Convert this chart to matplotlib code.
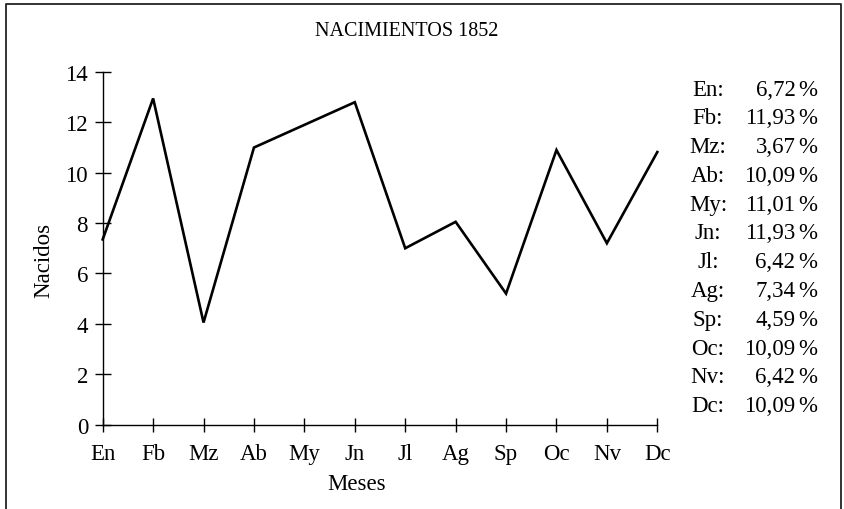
import matplotlib
matplotlib.use("Agg")
import matplotlib.pyplot as plt
from matplotlib.lines import Line2D

plt.rcParams['font.family'] = ['Liberation Serif', 'DejaVu Serif']

months = ["En", "Fb", "Mz", "Ab", "My", "Jn", "Jl", "Ag", "Sp", "Oc", "Nv", "Dc"]
births = [7.35, 12.95, 4.05, 11.0, 11.9, 12.8, 7.0, 8.05, 5.2, 10.9, 7.2, 10.82]
percents = ["6,72", "11,93", "3,67", "10,09", "11,01", "11,93", "6,42", "7,34", "4,59", "10,09", "6,42", "10,09"]
yticks = [0, 2, 4, 6, 8, 10, 12, 14]

W, H = 844, 510
fig = plt.figure(figsize=(W / 100, H / 100), dpi=100)
ax = fig.add_axes([102.7 / W, 1 - 425.5 / H, (657.3 - 102.7) / W, (425.5 - 73) / H])

x = list(range(len(months)))
ax.plot(x, births, color='black', lw=1.9, clip_on=False, solid_joinstyle='miter')
ax.set_xlim(0, len(months) - 1)
ax.set_ylim(0, 14)
ax.set_xticks(x)
ax.set_xticklabels(months)
ax.set_yticks(yticks)
for s in ['top', 'right']:
    ax.spines[s].set_visible(False)
for s in ['left', 'bottom']:
    ax.spines[s].set_linewidth(1.0)
ax.tick_params(axis='x', direction='inout', length=9.5, width=1.0, pad=8.5, labelsize=16.5)
ax.tick_params(axis='y', direction='inout', length=12, width=1.0, pad=4.5, labelsize=16.5)

fig.text(406.5 / W, 1 - 32 / H, "NACIMIENTOS 1852", ha='center', va='center', fontsize=14.5)
fig.text(44 / W, 1 - 260 / H, "Nacidos", rotation=90, ha='center', va='center', fontsize=16.5)
fig.text(357 / W, 1 - 485 / H, "Meses", ha='center', va='center', fontsize=16.5)

y0, dy = 90, (406.7 - 90) / 11
for i, (m, p) in enumerate(zip(months, percents)):
    yy = 1 - (y0 + i * dy) / H
    fig.text(708 / W, yy, m + ":", ha='center', va='center', fontsize=16.5)
    fig.text(795.5 / W, yy, p, ha='right', va='center', fontsize=16.5)
    fig.text(817 / W, yy, "%", ha='right', va='center', fontsize=16.5)

# outer frame
xl, xr, yt = 6 / W, 841 / W, 1 - 5 / H
fig.add_artist(Line2D([xl, xl, xr, xr], [0, yt, yt, 0], transform=fig.transFigure,
                      color='#222222', lw=1.3))

fig.savefig("out.png", dpi=100)
